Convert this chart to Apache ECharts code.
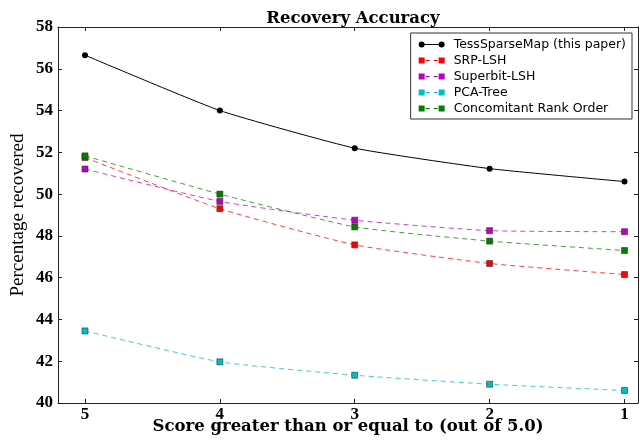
<!DOCTYPE html>
<html>
<head>
<meta charset="utf-8">
<script src="https://cdn.jsdelivr.net/npm/echarts@6/dist/echarts.min.js"></script>
<style>
  html, body { margin: 0; padding: 0; background: #fff; }
  #chart { width: 640px; height: 442px; }
</style>
</head>
<body>
<div id="chart"></div>
<script>
// scores on the x axis (shown reversed, 5 on the left)
const scores = [5, 4, 3, 2, 1];
const yTicks = [40, 42, 44, 46, 48, 50, 52, 54, 56, 58];

// percentage recovered per method
const tessSparseMap = [56.65, 54.0, 52.2, 51.22, 50.6];
const srpLsh = [51.75, 49.3, 47.57, 46.68, 46.15];
const superbitLsh = [51.2, 49.65, 48.75, 48.25, 48.2];
const pcaTree = [43.45, 41.97, 41.33, 40.9, 40.6];
const concomitant = [51.83, 50.0, 48.43, 47.75, 47.3];

const names = ['TessSparseMap (this paper)', 'SRP-LSH', 'Superbit-LSH', 'PCA-Tree', 'Concomitant Rank Order'];
const colors = ['#000000', '#ff0000', '#bf00bf', '#00bfbf', '#008000'];

const serif = '"Liberation Serif", "DejaVu Serif", serif';
const wideSerif = '"DejaVu Serif", serif';
const sqIcon = 'path://M0,0h6v6h-6z M7,2.5h4v1h-4z M15,2.5h4v1h-4z M20,0h6v6h-6z';
const dotIcon = 'path://M0,3a3,3 0 1,0 6,0a3,3 0 1,0 -6,0z M6,2.5h14v1h-14z M20,3a3,3 0 1,0 6,0a3,3 0 1,0 -6,0z';

function pairs(vals) {
    return scores.map((s, i) => [s, vals[i]]);
}

function makeSeries(i, vals) {
    const isTess = i === 0;
    return {
        type: 'line',
        name: names[i],
        data: pairs(vals),
        smooth: 0.15,
        symbol: isTess ? 'circle' : 'rect',
        symbolSize: 6,
        lineStyle: { color: colors[i], width: 1, type: isTess ? 'solid' : [5, 4], opacity: isTess ? 1 : 0.75 },
        itemStyle: { color: colors[i], borderColor: '#333', borderWidth: isTess ? 0 : 0.6 },
        z: isTess ? 3 : 2,
        animation: false
    };
}

const chart = echarts.init(document.getElementById('chart'));
const axisCommon = {
    axisLine: { show: true, lineStyle: { color: '#222', width: 1 } },
    splitLine: { show: false }
};

const option = {
    backgroundColor: '#fff',
    title: {
        text: 'Recovery Accuracy',
        left: 348, top: 5, textAlign: 'center',
        textStyle: { fontFamily: wideSerif, fontWeight: 'bold', fontSize: 16.5, color: '#000' }
    },
    grid: { left: 58, right: 2, top: 27, bottom: 39, outerBoundsMode: 'none' },
    legend: {
        orient: 'vertical',
        right: 8, top: 33,
        padding: [5, 6, 4, 8],
        itemGap: 3,
        itemWidth: 26, itemHeight: 6,
        backgroundColor: '#fff',
        borderColor: '#333', borderWidth: 1,
        textStyle: { fontFamily: '"DejaVu Sans", sans-serif', fontSize: 12.5, color: '#000', padding: [0, 0, 0, 4] },
        data: names.map((n, i) => ({ name: n, icon: i === 0 ? dotIcon : sqIcon })),
        itemStyle: { borderWidth: 0 }
    },
    xAxis: [
        Object.assign({}, axisCommon, {
            type: 'value', min: 0.9, max: 5.2, inverse: true, position: 'bottom',
            name: 'Score greater than or equal to (out of 5.0)',
            nameLocation: 'middle', nameGap: 15, nameMoveOverlap: false,
            nameTextStyle: { fontFamily: wideSerif, fontWeight: 'bold', fontSize: 16.5, color: '#000' },
            axisTick: { inside: true, length: 4, customValues: scores, lineStyle: { color: '#222' } },
            axisLabel: { customValues: scores, fontFamily: serif, fontWeight: 'bold', fontSize: 17, color: '#000', margin: 3 }
        }),
        Object.assign({}, axisCommon, {
            type: 'value', min: 0.9, max: 5.2, inverse: true, position: 'top',
            axisTick: { inside: true, length: 4, customValues: scores, lineStyle: { color: '#222' } },
            axisLabel: { show: false }
        })
    ],
    yAxis: [
        Object.assign({}, axisCommon, {
            type: 'value', min: 40, max: 58, interval: 2, position: 'left',
            name: 'Percentage recovered',
            nameLocation: 'middle', nameGap: 30, nameMoveOverlap: false,
            nameTextStyle: { fontFamily: serif, fontWeight: 'normal', fontSize: 19, color: '#000' },
            axisTick: { inside: true, length: 4, lineStyle: { color: '#222' } },
            axisLabel: { customValues: yTicks, fontFamily: serif, fontWeight: 'bold', fontSize: 17, color: '#000', margin: 5 }
        }),
        Object.assign({}, axisCommon, {
            type: 'value', min: 40, max: 58, interval: 2, position: 'right',
            axisTick: { inside: true, length: 4, lineStyle: { color: '#222' } },
            axisLabel: { show: false }
        })
    ],
    series: [
        makeSeries(0, tessSparseMap),
        makeSeries(1, srpLsh),
        makeSeries(2, superbitLsh),
        makeSeries(3, pcaTree),
        makeSeries(4, concomitant)
    ]
};

chart.setOption(option);
</script>
</body>
</html>
